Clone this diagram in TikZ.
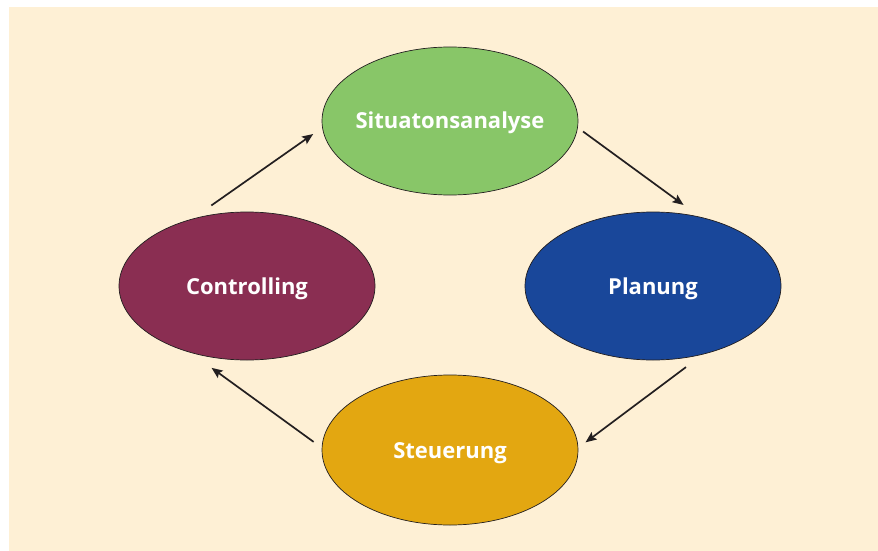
\documentclass[tikz,border=0pt]{standalone}
\usepackage{fontspec}
\setmainfont{Open Sans}
\usetikzlibrary{shapes.geometric,arrows.meta}
\definecolor{bgcream}{HTML}{FEF0D5}
\definecolor{sitgreen}{HTML}{88C668}
\definecolor{ctrlred}{HTML}{8A2E52}
\definecolor{planblue}{HTML}{19479A}
\definecolor{steugold}{HTML}{E3A711}
\definecolor{arrowdark}{HTML}{231F20}
\tikzset{
  phase/.style={ellipse, draw=arrowdark, line width=0.7pt, inner sep=0pt,
    minimum width=256pt, minimum height=148pt, text=white,
    font=\fontsize{22}{26}\selectfont\bfseries},
  flow/.style={draw=arrowdark, line width=1.7pt,
    -{Stealth[length=11pt,width=9pt,inset=2pt]}}
}
\newcommand{\phaselabel}[1]{\makebox[0pt]{\raisebox{-8pt}[0pt][0pt]{#1}}}
\begin{document}
\begin{tikzpicture}[x=1pt,y=-1pt]
\useasboundingbox (0,0) rectangle (878,551);
\fill[bgcream] (9,7) rectangle (878,551);
\node[phase, fill=sitgreen] (sit) at (450,121) {\phaselabel{Situatonsanalyse}};
\node[phase, fill=ctrlred] (ctrl) at (247,286) {\phaselabel{Controlling}};
\node[phase, fill=planblue] (plan) at (653,286) {\phaselabel{Planung}};
\node[phase, fill=steugold, minimum height=150pt] (steu) at (450,450) {\phaselabel{Steuerung}};
\draw[flow, shorten <=23pt, shorten >=11pt] (ctrl.129.4) -- (sit.183);
\draw[flow, shorten <=6.5pt, shorten >=20pt] (sit.-3.7) -- (plan.56.7);
\draw[flow, shorten <=21pt, shorten >=9pt] (plan.-54.5) -- (steu.1.2);
\draw[flow, shorten <=10pt, shorten >=25.5pt] (steu.179.1) -- (ctrl.230.8);
\end{tikzpicture}
\end{document}
